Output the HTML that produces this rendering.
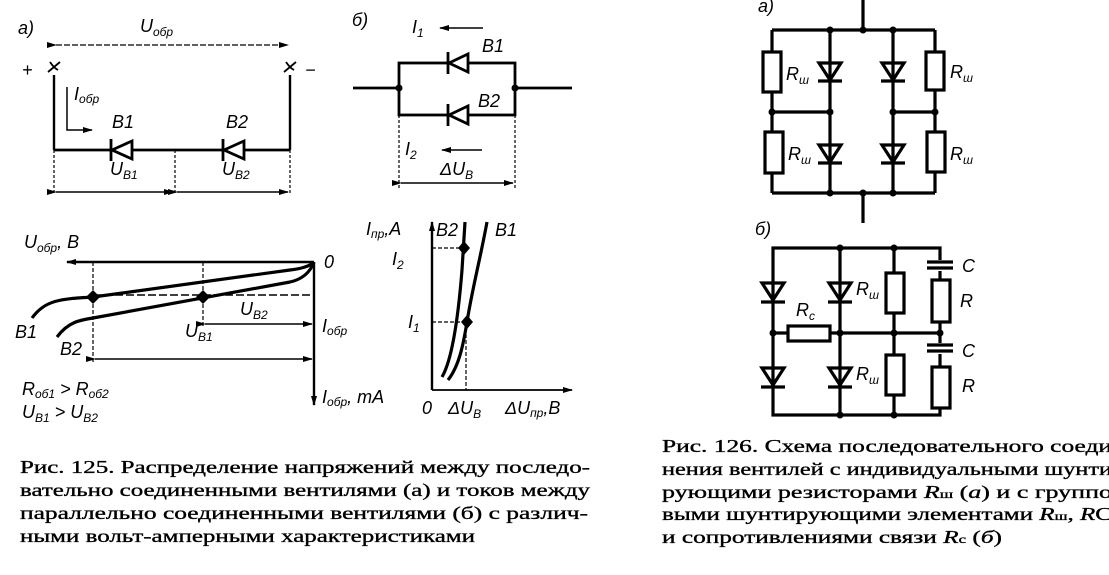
<!DOCTYPE html>
<html><head><meta charset="utf-8"><style>
html,body{margin:0;padding:0;background:#fff}
svg{display:block}
.l{font-family:"Liberation Sans",sans-serif;font-style:italic;font-size:18px;fill:#000}
.s{font-size:12px}
.c{font-family:"Liberation Serif",serif;font-size:18px;fill:#000;stroke:#000;stroke-width:0.35}
</style></head><body>
<svg width="1109" height="575" viewBox="0 0 1109 575" xmlns="http://www.w3.org/2000/svg">
<defs>
<marker id="a" markerWidth="10" markerHeight="6" refX="9" refY="3" orient="auto" markerUnits="userSpaceOnUse"><path d="M0,0 L10,3 L0,6z" fill="#000"/></marker>
</defs>
<g stroke="#000" fill="none" stroke-width="2.4">
<!-- Fig a -->
<line x1="56" y1="45" x2="288" y2="45" stroke-width="1.3" stroke-dasharray="6 2" marker-end="url(#a)" marker-start="url(#a)"/>
<line x1="54" y1="75" x2="54" y2="150"/>
<line x1="290" y1="75" x2="290" y2="150"/>
<line x1="54" y1="150" x2="290" y2="150" stroke-width="2.8"/>
<line x1="54" y1="150" x2="54" y2="195" stroke-width="1.2" stroke-dasharray="3 2"/>
<line x1="290" y1="150" x2="290" y2="195" stroke-width="1.2" stroke-dasharray="3 2"/>
<line x1="175" y1="150" x2="175" y2="195" stroke-width="1.2" stroke-dasharray="3 2"/>
<line x1="56" y1="192" x2="173" y2="192" stroke-width="1.5" marker-end="url(#a)" marker-start="url(#a)"/>
<line x1="177" y1="192" x2="288" y2="192" stroke-width="1.5" marker-end="url(#a)" marker-start="url(#a)"/>
<path d="M67,87 V130 H92" stroke-width="1.5" marker-end="url(#a)"/>
<path d="M48,72 L60,62 M50,62 Q54,68 58,70" stroke-width="1.8"/>
<path d="M284,72 L296,62 M286,62 Q290,68 294,70" stroke-width="1.8"/>
<!-- Fig б -->
<line x1="353" y1="88" x2="399" y2="88" stroke-width="2.8"/>
<line x1="515" y1="88" x2="572" y2="88" stroke-width="2.8"/>
<rect x="399" y="63" width="116" height="52" stroke-width="2.8"/>
<line x1="483" y1="28" x2="440" y2="28" stroke-width="1.5" marker-end="url(#a)"/>
<line x1="399" y1="115" x2="399" y2="188" stroke-width="1.2" stroke-dasharray="3 2"/>
<line x1="515" y1="115" x2="515" y2="188" stroke-width="1.2" stroke-dasharray="3 2"/>
<line x1="482" y1="150" x2="442" y2="150" stroke-width="1.5" marker-end="url(#a)"/>
<line x1="401" y1="183" x2="513" y2="183" stroke-width="1.5" marker-end="url(#a)" marker-start="url(#a)"/>
<!-- Graph 1 -->
<line x1="314" y1="262" x2="67" y2="262" stroke-width="2.4" marker-end="url(#a)"/>
<line x1="314" y1="262" x2="314" y2="405" stroke-width="2.4" marker-end="url(#a)"/>
<line x1="93" y1="262" x2="93" y2="362" stroke-width="1.2" stroke-dasharray="4 2"/>
<line x1="203" y1="262" x2="203" y2="326" stroke-width="1.2" stroke-dasharray="4 2"/>
<line x1="93" y1="295" x2="314" y2="295" stroke-width="1.5" stroke-dasharray="8 3"/>
<path d="M32,318 C45,300 60,299 93,297 L290,270 Q308,268 314,262" stroke-width="3.2"/>
<path d="M57,337 C68,322 80,320 93,318 L290,282 Q308,278 314,262" stroke-width="3.2"/>
<line x1="205" y1="324" x2="312" y2="324" stroke-width="1.5" marker-end="url(#a)" marker-start="url(#a)"/>
<line x1="95" y1="359" x2="312" y2="359" stroke-width="1.5" marker-end="url(#a)" marker-start="url(#a)"/>
<!-- Graph 2 -->
<line x1="432" y1="390" x2="432" y2="222" stroke-width="2.4" marker-end="url(#a)"/>
<line x1="432" y1="390" x2="572" y2="390" stroke-width="1.8" marker-end="url(#a)"/>
<line x1="432" y1="248" x2="464" y2="248" stroke-width="1.2" stroke-dasharray="4 2"/>
<line x1="432" y1="322" x2="467" y2="322" stroke-width="1.2" stroke-dasharray="4 2"/>
<line x1="466" y1="322" x2="466" y2="390" stroke-width="1.2" stroke-dasharray="4 2"/>
<path d="M442,377 C452,360 458,320 462,270 L465,222" stroke-width="3.2"/>
<path d="M448,380 C460,365 464,340 467,322 C472,290 480,260 487,222" stroke-width="3.2"/>
<!-- Fig 126 a -->
<g stroke-width="3.2">
<line x1="863" y1="0" x2="863" y2="30"/>
<line x1="863" y1="193" x2="863" y2="223"/>
<line x1="772" y1="30" x2="935" y2="30"/>
<line x1="772" y1="193" x2="935" y2="193"/>
<line x1="772" y1="30" x2="772" y2="193"/>
<line x1="935" y1="30" x2="935" y2="193"/>
<line x1="830" y1="30" x2="830" y2="193"/>
<line x1="893" y1="30" x2="893" y2="193"/>
<line x1="772" y1="112" x2="830" y2="112"/>
<line x1="893" y1="112" x2="935" y2="112"/>
<rect x="763" y="52" width="18" height="40" fill="#fff"/>
<rect x="765" y="132" width="18" height="41" fill="#fff"/>
<rect x="926" y="52" width="18" height="38" fill="#fff"/>
<rect x="927" y="132" width="18" height="40" fill="#fff"/>
<path d="M819,63 H841 L830,80z M818,81 H842"/>
<path d="M882,63 H904 L893,80z M881,81 H905"/>
<path d="M819,145 H841 L830,162z M818,163 H842"/>
<path d="M882,145 H904 L893,162z M881,163 H905"/>
</g>
<!-- Fig 126 б -->
<g stroke-width="3.2">
<rect x="773" y="248" width="167" height="167"/>
<line x1="840" y1="248" x2="840" y2="415"/>
<line x1="894" y1="248" x2="894" y2="415"/>
<line x1="773" y1="333" x2="940" y2="333"/>
<rect x="788" y="326" width="42" height="15" fill="#fff"/>
<rect x="886" y="273" width="18" height="40" fill="#fff"/>
<rect x="886" y="355" width="18" height="40" fill="#fff"/>
<rect x="932" y="280" width="18" height="42" fill="#fff"/>
<rect x="932" y="367" width="18" height="41" fill="#fff"/>
<rect x="926" y="260" width="28" height="11" fill="#fff" stroke="none"/>
<rect x="926" y="343" width="28" height="11" fill="#fff" stroke="none"/>
<path d="M927,262 H953 M927,268 H953 M927,345 H953 M927,351 H953"/>
<path d="M762,283 H784 L773,300z M761,302 H785"/>
<path d="M829,283 H851 L840,300z M828,302 H852"/>
<path d="M762,368 H784 L773,385z M761,387 H785"/>
<path d="M829,368 H851 L840,385z M828,387 H852"/>
</g>
</g>
<!-- left diodes -->
<g fill="#000" stroke="#000" stroke-width="2.8">
<path d="M112,150 L132,141 L132,159z" fill="#fff"/><line x1="111" y1="139" x2="111" y2="161"/>
<path d="M224,150 L244,141 L244,159z" fill="#fff"/><line x1="223" y1="139" x2="223" y2="161"/>
<path d="M449,63 L468,54 L468,72z" fill="#fff"/><line x1="448" y1="52" x2="448" y2="74"/>
<path d="M449,115 L468,106 L468,124z" fill="#fff"/><line x1="448" y1="104" x2="448" y2="126"/>
</g>
<g fill="#000">
<circle cx="399" cy="88" r="3.5"/><circle cx="515" cy="88" r="3.5"/>
<path d="M93,290 l7,7 l-7,7 l-7,-7z"/><path d="M203,290 l7,7 l-7,7 l-7,-7z"/>
<path d="M464,241 l6,7 l-6,7 l-6,-7z"/><path d="M467,315 l6,7 l-6,7 l-6,-7z"/>
<circle cx="863" cy="30" r="3.5"/><circle cx="830" cy="30" r="3.5"/><circle cx="893" cy="30" r="3.5"/>
<circle cx="863" cy="193" r="3.5"/><circle cx="830" cy="193" r="3.5"/><circle cx="893" cy="193" r="3.5"/>
<circle cx="772" cy="112" r="3.5"/><circle cx="830" cy="112" r="3.5"/><circle cx="893" cy="112" r="3.5"/><circle cx="935" cy="112" r="3.5"/>
<circle cx="840" cy="248" r="3.5"/><circle cx="894" cy="248" r="3.5"/><circle cx="840" cy="415" r="3.5"/><circle cx="894" cy="415" r="3.5"/>
<circle cx="773" cy="333" r="3.5"/><circle cx="840" cy="333" r="3.5"/><circle cx="894" cy="333" r="3.5"/><circle cx="940" cy="333" r="3.5"/>
</g>
<!-- labels -->
<text class="l" x="18" y="34">a)</text>
<text class="l" x="140" y="32">U<tspan class="s" dy="4">обр</tspan></text>
<text class="l" x="22" y="76" font-style="normal">+</text>
<text class="l" x="305" y="76" font-style="normal">−</text>
<text class="l" x="74" y="100">I<tspan class="s" dy="3">обр</tspan></text>
<text class="l" x="112" y="128">B1</text>
<text class="l" x="226" y="128">B2</text>
<text class="l" x="110" y="175">U<tspan class="s" dy="4">B1</tspan></text>
<text class="l" x="222" y="175">U<tspan class="s" dy="4">B2</tspan></text>
<text class="l" x="352" y="26">б)</text>
<text class="l" x="412" y="33">I<tspan class="s" dy="4">1</tspan></text>
<text class="l" x="482" y="52">B1</text>
<text class="l" x="478" y="107">B2</text>
<text class="l" x="405" y="155">I<tspan class="s" dy="4">2</tspan></text>
<text class="l" x="440" y="175">ΔU<tspan class="s" dy="4">B</tspan></text>
<text class="l" x="24" y="248">U<tspan class="s" dy="4">обр</tspan><tspan dy="-4">, B</tspan></text>
<text class="l" x="324" y="268">0</text>
<text class="l" x="240" y="315">U<tspan class="s" dy="4">B2</tspan></text>
<text class="l" x="185" y="337">U<tspan class="s" dy="4">B1</tspan></text>
<text class="l" x="322" y="332">I<tspan class="s" dy="3">обр</tspan></text>
<text class="l" x="15" y="338">B1</text>
<text class="l" x="60" y="355">B2</text>
<text class="l" x="322" y="403">I<tspan class="s" dy="3">обр</tspan><tspan dy="-3">, mA</tspan></text>
<text class="l" x="22" y="395">R<tspan class="s" dy="3">об1</tspan><tspan dy="-3"> &gt; R</tspan><tspan class="s" dy="3">об2</tspan></text>
<text class="l" x="22" y="418">U<tspan class="s" dy="4">B1</tspan><tspan dy="-4"> &gt; U</tspan><tspan class="s" dy="4">B2</tspan></text>
<text class="l" x="366" y="235">I<tspan class="s" dy="3">пр</tspan><tspan dy="-3">,A</tspan></text>
<text class="l" x="436" y="236">B2</text>
<text class="l" x="495" y="236">B1</text>
<text class="l" x="392" y="265">I<tspan class="s" dy="4">2</tspan></text>
<text class="l" x="408" y="328">I<tspan class="s" dy="4">1</tspan></text>
<text class="l" x="422" y="414">0</text>
<text class="l" x="448" y="414">ΔU<tspan class="s" dy="4">B</tspan></text>
<text class="l" x="505" y="414">ΔU<tspan class="s" dy="3">пр</tspan><tspan dy="-3">,B</tspan></text>
<text class="l" x="758" y="12">a)</text>
<text class="l" x="786" y="80">R<tspan class="s" dy="4">ш</tspan></text>
<text class="l" x="788" y="160">R<tspan class="s" dy="4">ш</tspan></text>
<text class="l" x="950" y="78">R<tspan class="s" dy="4">ш</tspan></text>
<text class="l" x="950" y="160">R<tspan class="s" dy="4">ш</tspan></text>
<text class="l" x="755" y="235">б)</text>
<text class="l" x="796" y="316">R<tspan class="s" dy="4">c</tspan></text>
<text class="l" x="856" y="295">R<tspan class="s" dy="4">ш</tspan></text>
<text class="l" x="856" y="380">R<tspan class="s" dy="4">ш</tspan></text>
<text class="l" x="962" y="272">C</text>
<text class="l" x="960" y="307">R</text>
<text class="l" x="962" y="357">C</text>
<text class="l" x="962" y="392">R</text>
<!-- captions -->
<text class="c" x="20" y="473" textLength="570" lengthAdjust="spacingAndGlyphs">Рис. 125. Распределение напряжений между последо-</text>
<text class="c" x="20" y="496" textLength="570" lengthAdjust="spacingAndGlyphs">вательно соединенными вентилями (а) и токов между</text>
<text class="c" x="20" y="519" textLength="568" lengthAdjust="spacingAndGlyphs">параллельно соединенными вентилями (б) с различ-</text>
<text class="c" x="20" y="542" textLength="455" lengthAdjust="spacingAndGlyphs">ными вольт-амперными характеристиками</text>
<text class="c" x="662" y="452" textLength="450" lengthAdjust="spacingAndGlyphs">Рис. 126. Схема последовательного соеди</text>
<text class="c" x="662" y="475" textLength="450" lengthAdjust="spacingAndGlyphs">нения вентилей с индивидуальными шунти</text>
<text class="c" x="662" y="498" textLength="450" lengthAdjust="spacingAndGlyphs">рующими резисторами <tspan font-style="italic">R</tspan><tspan font-size="12">ш</tspan> (<tspan font-style="italic">а</tspan>) и с группо</text>
<text class="c" x="662" y="520" textLength="450" lengthAdjust="spacingAndGlyphs">выми шунтирующими элементами <tspan font-style="italic">R</tspan><tspan font-size="12">ш</tspan>, <tspan font-style="italic">R</tspan>С</text>
<text class="c" x="662" y="543" textLength="340" lengthAdjust="spacingAndGlyphs">и сопротивлениями связи <tspan font-style="italic">R</tspan><tspan font-size="12">c</tspan> (<tspan font-style="italic">б</tspan>)</text>
</svg>
</body></html>
